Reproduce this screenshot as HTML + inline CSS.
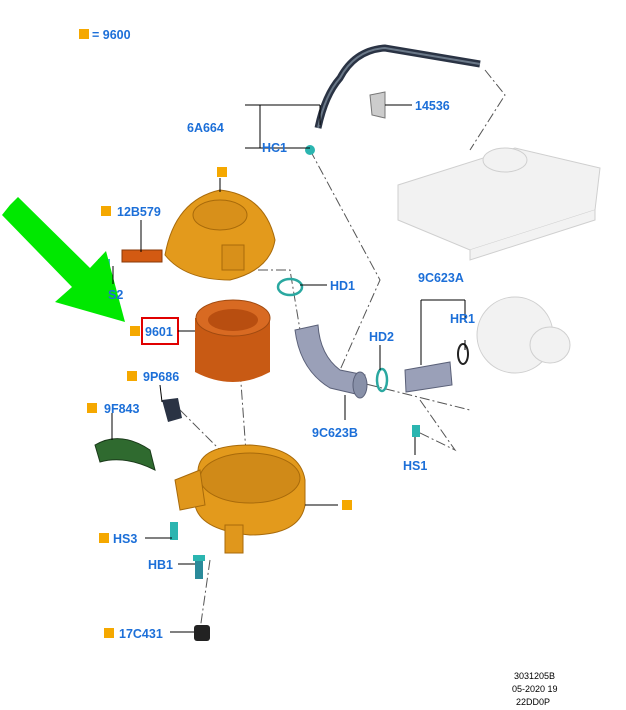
<!DOCTYPE html>
<html><head><style>
html,body{margin:0;padding:0;background:#fff;width:626px;height:710px;overflow:hidden}
svg{display:block}
.l{font-family:"Liberation Sans",sans-serif;font-weight:bold;font-size:12.5px;fill:#1c6fd8}
.s{font-family:"Liberation Sans",sans-serif;font-size:9px;fill:#000}
.ln{stroke:#000;stroke-width:1;fill:none}
.dd{stroke:#555;stroke-width:1;fill:none;stroke-dasharray:10,3,2,3}
</style></head><body>
<svg width="626" height="710" viewBox="0 0 626 710">
<rect x="79" y="29" width="10" height="10" fill="#f5a800"/>
<text class="l" x="92" y="39">= 9600</text>

<path class="dd" d="M310 150 L380 280 L340 370"/>
<path class="dd" d="M485 70 L505 95 L470 150"/>
<path class="dd" d="M240 270 L290 270 L300 330"/>
<path class="dd" d="M235 300 L248 480"/>
<path class="dd" d="M350 380 L470 410"/>
<path class="dd" d="M420 400 L455 450 L418 432"/>
<path class="dd" d="M210 560 L200 630"/>
<path class="dd" d="M180 410 L220 450"/>

<g fill="#f2f2f2" stroke="#cfcfcf" stroke-width="1">
<path d="M398 185 L515 148 L600 168 L595 210 L470 250 L398 220 Z"/>
<ellipse cx="505" cy="160" rx="22" ry="12"/>
<path d="M470 250 L470 260 L595 220 L595 210"/>
<ellipse cx="515" cy="335" rx="38" ry="38"/>
<ellipse cx="550" cy="345" rx="20" ry="18"/>
</g>

<path d="M318 128 Q325 95 340 78 Q355 50 385 48 L480 64" stroke="#2a3344" stroke-width="7" fill="none"/>
<path d="M318 128 Q325 95 340 78 Q355 50 385 48 L480 64" stroke="#6a7888" stroke-width="2" fill="none"/>
<path d="M370 95 L385 92 L385 118 L372 115 Z" fill="#ccc" stroke="#777"/>
<circle cx="310" cy="150" r="5" fill="#2bb5b0"/>

<path d="M165 255 Q175 200 220 190 Q265 195 275 240 Q270 270 230 280 Q185 280 165 255 Z" fill="#e39a1c" stroke="#a86a0a"/>
<ellipse cx="220" cy="215" rx="27" ry="15" fill="#d8901a" stroke="#a86a0a"/>
<rect x="222" y="245" width="22" height="25" fill="#d8901a" stroke="#a86a0a"/>
<rect x="122" y="250" width="40" height="12" fill="#d35a12" stroke="#8a3a08"/>
<rect x="98" y="259" width="12" height="8" fill="#3cb8c8"/>

<path d="M195 318 L195 372 Q233 392 270 372 L270 318 Z" fill="#c85a14"/>
<ellipse cx="233" cy="318" rx="37" ry="18" fill="#d86a22" stroke="#a04a10"/>
<ellipse cx="233" cy="320" rx="25" ry="11" fill="#b84e10"/>

<ellipse cx="290" cy="287" rx="12" ry="8" fill="none" stroke="#2aa8a0" stroke-width="2.5"/>

<path d="M295 330 Q300 370 330 388 L360 395 L365 375 L340 370 Q320 355 318 325 Z" fill="#9aa0b8" stroke="#5a6078"/>
<ellipse cx="360" cy="385" rx="7" ry="13" fill="#8890a8" stroke="#5a6078"/>
<ellipse cx="382" cy="380" rx="5" ry="11" fill="none" stroke="#2aa8a0" stroke-width="2.5"/>

<path d="M405 370 L450 362 L452 385 L406 392 Z" fill="#9aa0b8" stroke="#5a6078"/>
<ellipse cx="463" cy="354" rx="5" ry="10" fill="none" stroke="#222" stroke-width="2"/>
<rect x="412" y="425" width="8" height="12" fill="#2bb5b0"/>

<path d="M162 400 L178 398 L182 418 L168 422 Z" fill="#2a3344"/>

<path d="M95 445 Q120 430 150 450 L155 470 Q125 455 100 462 Z" fill="#2f6a2f" stroke="#1a3a1a"/>

<path d="M198 470 Q200 445 250 445 Q300 448 305 480 L305 505 Q300 535 250 535 Q200 530 195 505 Z" fill="#e39a1c" stroke="#a86a0a"/>
<ellipse cx="250" cy="478" rx="50" ry="25" fill="#d08a18" stroke="#a86a0a"/>
<path d="M175 480 L200 470 L205 505 L180 510 Z" fill="#e0971c" stroke="#a86a0a"/>
<rect x="225" y="525" width="18" height="28" fill="#e0971c" stroke="#a86a0a"/>
<rect x="170" y="522" width="8" height="18" fill="#2bb5b0"/>
<rect x="195" y="557" width="8" height="22" fill="#2a8a9a"/>
<rect x="193" y="555" width="12" height="6" fill="#2bb5b0"/>
<rect x="194" y="625" width="16" height="16" rx="3" fill="#222"/>

<path d="M10 205 L18 197 L90 268 L106 251 L125 322 L55 302 L72 287 L2 215 Z" fill="#00e800"/>

<rect x="142" y="318" width="36" height="26" fill="#fff" stroke="#e00000" stroke-width="2"/>

<g class="ln">
<path d="M260 105 L260 148 M245 105 L320 105 M245 148 L295 148 M320 105 L320 125 M295 148 L310 148"/>
<path d="M385 105 L412 105"/>
<path d="M220 178 L220 192"/>
<path d="M141 220 L141 252"/>
<path d="M113 266 L113 284"/>
<path d="M300 285 L327 285"/>
<path d="M178 331 L195 331"/>
<path d="M380 345 L380 370"/>
<path d="M421 300 L465 300 M421 300 L421 365 M465 300 L465 322 M465 340 L465 350"/>
<path d="M160 385 L162 402"/>
<path d="M112 413 L112 440"/>
<path d="M305 505 L338 505"/>
<path d="M145 538 L172 538"/>
<path d="M178 564 L195 564"/>
<path d="M170 632 L194 632"/>
<path d="M415 437 L415 455"/>
<path d="M345 395 L345 420"/>
</g>

<g>
<rect x="217" y="167" width="10" height="10" fill="#f5a800"/>
<rect x="101" y="206" width="10" height="10" fill="#f5a800"/>
<rect x="130" y="326" width="10" height="10" fill="#f5a800"/>
<rect x="127" y="371" width="10" height="10" fill="#f5a800"/>
<rect x="87" y="403" width="10" height="10" fill="#f5a800"/>
<rect x="342" y="500" width="10" height="10" fill="#f5a800"/>
<rect x="99" y="533" width="10" height="10" fill="#f5a800"/>
<rect x="104" y="628" width="10" height="10" fill="#f5a800"/>
</g>
<text class="l" x="187" y="132">6A664</text>
<text class="l" x="262" y="152">HC1</text>
<text class="l" x="415" y="110">14536</text>
<text class="l" x="117" y="216">12B579</text>
<text class="l" x="108" y="299">S2</text>
<text class="l" x="330" y="290">HD1</text>
<text class="l" x="145" y="336">9601</text>
<text class="l" x="369" y="341">HD2</text>
<text class="l" x="418" y="282">9C623A</text>
<text class="l" x="450" y="323">HR1</text>
<text class="l" x="143" y="381">9P686</text>
<text class="l" x="104" y="413">9F843</text>
<text class="l" x="312" y="437">9C623B</text>
<text class="l" x="403" y="470">HS1</text>
<text class="l" x="113" y="543">HS3</text>
<text class="l" x="148" y="569">HB1</text>
<text class="l" x="119" y="638">17C431</text>
<text class="s" x="514" y="679">3031205B</text>
<text class="s" x="512" y="692">05-2020 19</text>
<text class="s" x="516" y="705">22DD0P</text>
</svg>
</body></html>
